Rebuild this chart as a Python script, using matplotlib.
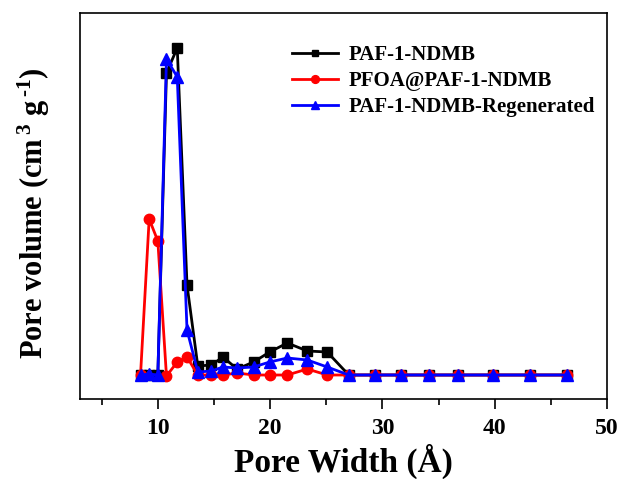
import matplotlib
matplotlib.use("Agg")
import matplotlib.pyplot as plt
from matplotlib.ticker import MultipleLocator

plt.rcParams["font.family"] = ["Liberation Serif", "DejaVu Serif"]
plt.rcParams["font.weight"] = "bold"
plt.rcParams["mathtext.fontset"] = "custom"
plt.rcParams["mathtext.rm"] = "Liberation Serif:bold"
plt.rcParams["mathtext.bf"] = "Liberation Serif:bold"
plt.rcParams["mathtext.default"] = "bf"

# Pore width grid (Angstrom)
pore_width = [8.46, 9.23, 10.0, 10.77, 11.73, 12.6, 13.56, 14.77, 15.8, 17.05,
              18.53, 19.96, 21.53, 23.31, 25.08, 27.0, 29.38, 31.69, 34.18,
              36.76, 39.87, 43.16, 46.44]

# Pore volume (cm3 g-1)
paf = [0, 0, 0, 0.302, 0.327, 0.090, 0.009, 0.010, 0.018, 0.006,
       0.013, 0.023, 0.032, 0.024, 0.023, 0, 0, 0, 0, 0, 0, 0, 0]
pfoa = [0, 0.156, 0.134, -0.001, 0.013, 0.018, 0, 0, 0, 0.002,
        0, 0, 0, 0.006, 0, 0, 0, 0, 0, 0, 0, 0, 0]
regen = [0, 0.001, 0, 0.316, 0.298, 0.045, 0.003, 0.004, 0.008, 0.007,
         0.008, 0.013, 0.017, 0.015, 0.008, 0, 0, 0, 0, 0, 0, 0, 0]

labels = ["PAF-1-NDMB", "PFOA@PAF-1-NDMB", "PAF-1-NDMB-Regenerated"]

fig = plt.figure(figsize=(6.22, 4.79), dpi=100)
ax = fig.add_axes([0.1286, 0.167, 0.8474, 0.806])

lw = 2.0
ax.plot(pore_width, paf, color="black", marker="s", ms=6.5, lw=lw, label=labels[0])
ax.plot(pore_width, pfoa, color="red", marker="o", ms=7.5, lw=lw, label=labels[1])
ax.plot(pore_width, regen, color="blue", marker="^", ms=8, lw=lw, label=labels[2])

ax.set_xlim(3.07, 50)
ax.set_ylim(-0.024, 0.362)
ax.xaxis.set_major_locator(MultipleLocator(10))
ax.xaxis.set_minor_locator(MultipleLocator(5))
ax.set_yticks([])
ax.tick_params(axis="x", which="major", direction="out", length=7, width=1.2,
               labelsize=17, pad=7)
ax.tick_params(axis="x", which="minor", direction="out", length=4, width=1.2)
for sp in ax.spines.values():
    sp.set_linewidth(1.2)

ax.set_xlabel("Pore Width (Å)", fontsize=24, fontweight="bold", labelpad=3)
ax.set_ylabel(r"Pore volume (cm$^{\,3}$ g$^{\,\text{-}1}$)", fontsize=22,
              fontweight="bold")
ax.yaxis.set_label_coords(-0.053, 0.482)

leg = ax.legend(loc="upper right", bbox_to_anchor=(0.977, 0.917), frameon=False,
                fontsize=15, handlelength=2.2, markerscale=0.75,
                labelspacing=0.3, handletextpad=0.5, borderpad=0,
                borderaxespad=0)
for t in leg.get_texts():
    t.set_fontweight("bold")

fig.savefig("out.png", dpi=100)
